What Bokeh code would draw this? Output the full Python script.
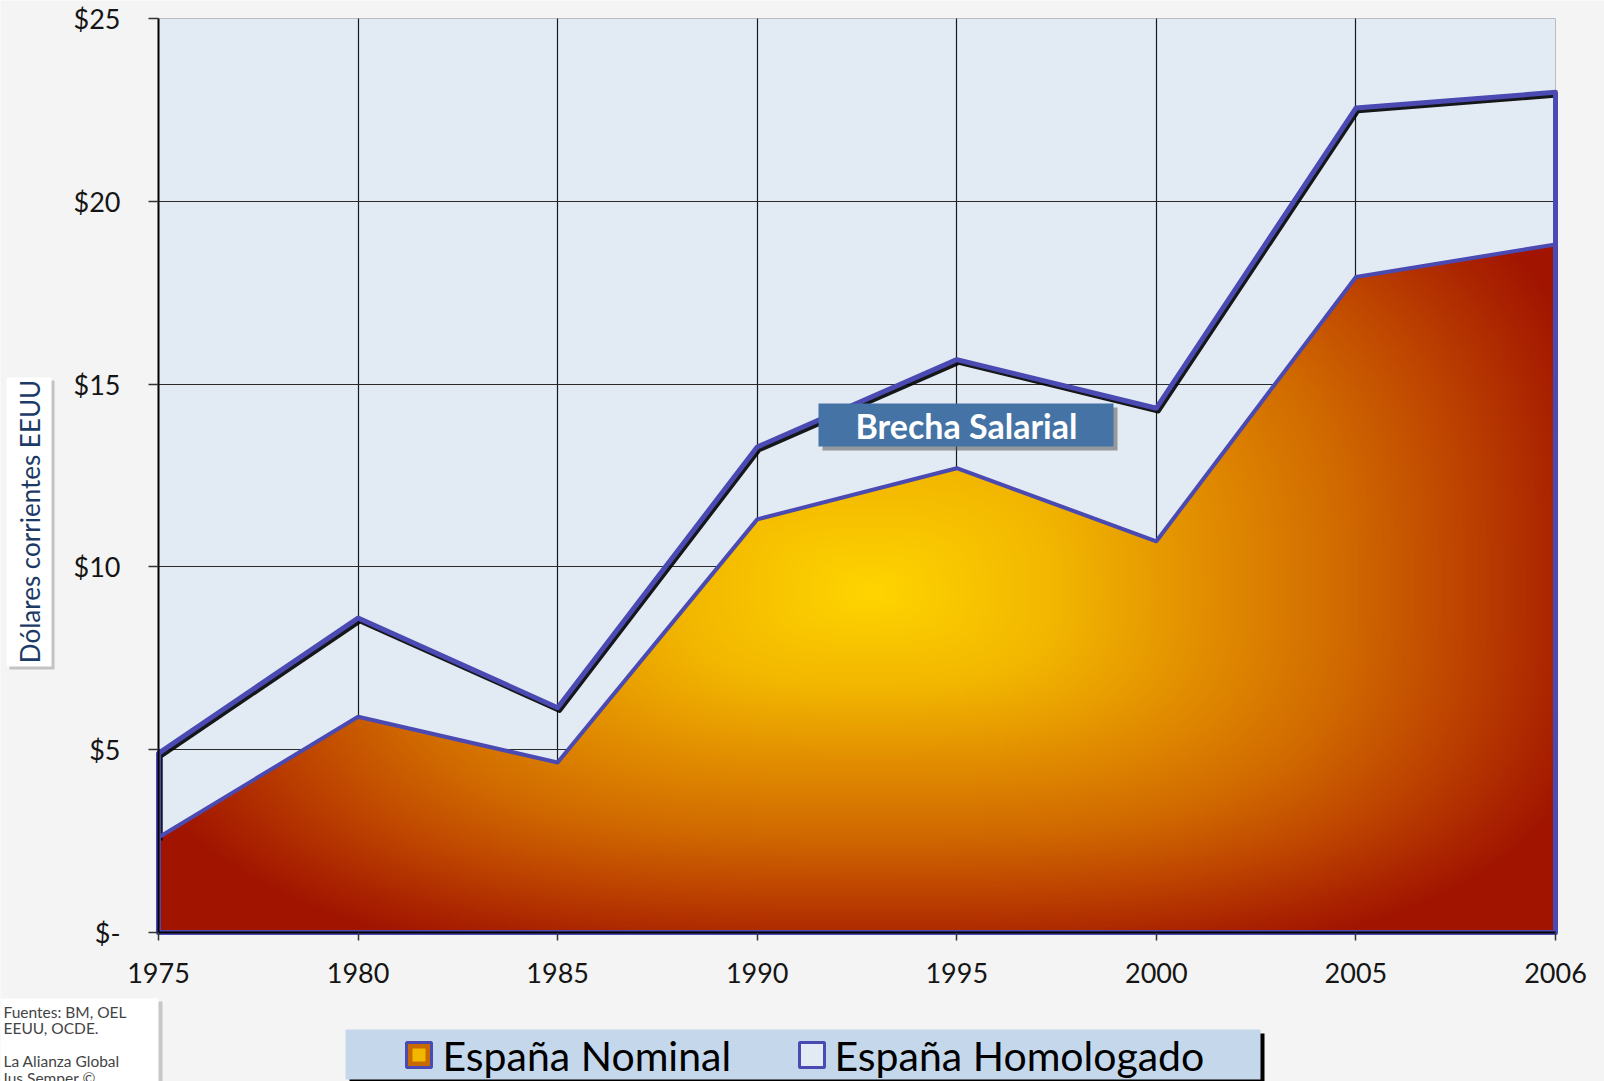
import numpy as np
from bokeh.plotting import figure
from bokeh.models import FixedTicker, BoxAnnotation, Label, Range1d
from bokeh.embed import file_html
from bokeh.resources import INLINE

# ---------------- data ----------------
years = ["1975", "1980", "1985", "1990", "1995", "2000", "2005", "2006"]
nominal = [2.6, 5.9, 4.65, 11.3, 12.7, 10.7, 17.93, 18.82]
homologado = [4.9, 8.6, 6.15, 13.28, 15.67, 14.34, 22.55, 22.98]
y_ticks = [0, 5, 10, 15, 20, 25]
y_tick_labels = ["$-", "$5", "$10", "$15", "$20", "$25"]
series_names = ["España Nominal", "España Homologado"]
y_title = "Dólares corrientes EEUU"
gap_label = "Brecha Salarial"
source_lines = ["Fuentes: BM, OEL", "EEUU, OCDE.", "", "La Alianza Global", "Ius Semper ©"]

idx = list(range(len(years)))

# ---------------- layout (reference pixel positions) ----------------
W, H = 1604, 1081
FL, FR, FT, FB = 158, 1555, 18, 932      # data area in page pixels
FONT = "Lato"
BLUE = "#4A4AB2"
x0, x1 = idx[0], idx[-1]
y0, y1 = y_ticks[0], y_ticks[-1]
ppx = (FR - FL) / (x1 - x0)
ppy = (FB - FT) / (y1 - y0)

# frame = whole canvas; ranges chosen so the data area lands at FL..FR / FT..FB
p = figure(width=W, height=H,
           x_range=Range1d(x0 - FL / ppx, x1 + (W - FR) / ppx),
           y_range=Range1d(y0 - (H - FB) / ppy, y1 + FT / ppy),
           output_backend="svg", toolbar_location=None,
           min_border=0, min_border_left=0, min_border_right=0,
           min_border_top=0, min_border_bottom=0)
p.background_fill_color = "#F4F4F4"
p.border_fill_color = "#F4F4F4"
p.outline_line_color = None

def sx(X):
    return X

def sy(Y):
    return H - Y

# data-area background
p.add_layout(BoxAnnotation(left=x0, right=x1, bottom=y0, top=y1, level="image",
                           fill_color="#E2EAF4", fill_alpha=1,
                           line_color="#BDBDBD", line_width=1, line_alpha=1))

# axes, fixed at the data origin
p.xaxis.fixed_location = y0
p.yaxis.fixed_location = x0
p.xaxis.bounds = (x0, x1)
p.yaxis.bounds = (y0, y1)
p.xaxis.ticker = FixedTicker(ticks=idx)
p.xaxis.major_label_overrides = {i: y for i, y in zip(idx, years)}
p.yaxis.ticker = FixedTicker(ticks=y_ticks)
p.yaxis.major_label_overrides = {t: l for t, l in zip(y_ticks, y_tick_labels)}
for ax in (p.xaxis, p.yaxis):
    ax.axis_line_color = "#000000"
    ax.axis_line_width = 2
    ax.major_tick_line_color = "#333333"
    ax.major_tick_line_width = 1.5
    ax.major_tick_in = 0
    ax.minor_tick_line_color = None
    ax.major_label_text_font = FONT
    ax.major_label_text_font_size = "27px"
    ax.major_label_text_color = "#151515"
p.yaxis.major_tick_out = 10
p.yaxis.major_label_standoff = 28
p.xaxis.major_tick_out = 8
p.xaxis.major_label_standoff = 22

# grid lines limited to the data area
grid_x = idx[1:-1]
grid_y = y_ticks[1:-1]
has_cross = "cross_bounds" in p.xgrid[0].properties()
if has_cross:
    p.xgrid.ticker = FixedTicker(ticks=grid_x)
    p.ygrid.ticker = FixedTicker(ticks=grid_y)
    p.xgrid.cross_bounds = (y0, y1)
    p.ygrid.cross_bounds = (x0, x1)
    p.xgrid.grid_line_color = "#1A1A1A"
    p.ygrid.grid_line_color = "#2A2A2A"
    p.xgrid.grid_line_width = 1.2
    p.ygrid.grid_line_width = 1.2
else:
    p.xgrid.grid_line_color = None
    p.ygrid.grid_line_color = None
    p.segment(x0=grid_x, x1=grid_x, y0=[y0] * len(grid_x), y1=[y1] * len(grid_x),
              line_color="#1A1A1A", line_width=1.2, level="underlay")
    p.segment(x0=[x0] * len(grid_y), x1=[x1] * len(grid_y), y0=grid_y, y1=grid_y,
              line_color="#2A2A2A", line_width=1.2, level="underlay")

# ---------------- gradient fill for nominal area ----------------
nx, ny = 700, 460
gx = x0 + (np.arange(nx) + 0.5) * (x1 - x0) / nx
gy = y0 + (np.arange(ny) + 0.5) * (y1 - y0) / ny
GX, GY = np.meshgrid(gx, gy)
cx, cy = (870 - FL) / ppx, (FB - 593) / ppy
rxl, rxr = 760 / ppx, 740 / ppx
ryd, ryu = 375 / ppy, 500 / ppy
ux = np.where(GX < cx, (cx - GX) / rxl, (GX - cx) / rxr)
uy = np.where(GY < cy, (cy - GY) / ryd, (GY - cy) / ryu)
t = np.clip((ux ** 3 + uy ** 3) ** (1 / 3), 0, 1)
stops = [0.0, 0.25, 0.45, 0.65, 0.8, 0.92, 1.0]
rs = [255, 242, 226, 208, 190, 172, 160]
gs = [213, 182, 142, 104, 68, 38, 20]
top = np.interp(gx, idx, nominal)
mask = GY <= top[None, :]
img = np.zeros((ny, nx), dtype=np.uint32)
view = img.view(dtype=np.uint8).reshape((ny, nx, 4))
view[..., 0] = np.interp(t, stops, rs).astype(np.uint8)
view[..., 1] = np.interp(t, stops, gs).astype(np.uint8)
view[..., 2] = 0
view[..., 3] = np.where(mask, 255, 0).astype(np.uint8)
p.image_rgba(image=[img], x=x0, y=y0, dw=x1 - x0, dh=y1 - y0)

# ---------------- outlines ----------------
dx, dy = 2 / ppx, -3 / ppy
shx = [idx[0] + dx] + [i + dx for i in idx]
shy = [nominal[0] + dy] + [v + dy for v in homologado]
p.line(shx, shy, line_color="#000000", line_width=4.5, line_alpha=0.9, line_join="round")

hx = [x0] + idx + [x1]
hy = [y0] + homologado + [y0]
p.patch(hx, hy, fill_alpha=0, line_color=BLUE, line_width=5, line_join="round")

nxs = [x0] + idx + [x1]
nys = [y0] + nominal + [y0]
p.patch(nxs, nys, fill_alpha=0, line_color=BLUE, line_width=4, line_join="round")

# ---------------- annotations ----------------
def box(l, t_, r, b, color, alpha=1.0, line_color=None, line_width=0):
    p.add_layout(BoxAnnotation(left=sx(l), right=sx(r), top=sy(t_), bottom=sy(b),
                               left_units="screen", right_units="screen",
                               top_units="screen", bottom_units="screen",
                               fill_color=color, fill_alpha=alpha,
                               line_color=line_color, line_width=line_width,
                               line_alpha=1.0 if line_color else 0))

def label(X, Y, text, size, color, align="left", baseline="middle", style="normal", angle=0):
    p.add_layout(Label(x=sx(X), y=sy(Y), x_units="screen", y_units="screen", text=text,
                       text_font=FONT, text_font_size=f"{size}px", text_color=color,
                       text_align=align, text_baseline=baseline, text_font_style=style,
                       angle=angle))

# y title box
box(9, 380, 54, 669, "#888888", 0.45)
box(6, 377, 51, 666, "#FFFFFF")
label(29, 521, y_title, 26, "#1B3A66", align="center", angle=np.pi / 2)

# brecha salarial box
box(822, 407, 1117, 450, "#555555", 0.55)
box(818, 403, 1113, 446, "#4573A5")
label(966, 425, gap_label, 34, "#FFFFFF", align="center", style="bold")

# legend
box(349, 1033, 1264, 1083, "#000000")
box(345, 1029, 1260, 1079, "#C5D7EA")
box(406, 1042, 431, 1067, "#C86A00", line_color=BLUE, line_width=3)
box(412, 1048, 425, 1061, "#F2B800")
box(799, 1042, 824, 1067, "#E2EAF4", line_color=BLUE, line_width=3)
label(442, 1055, series_names[0], 41, "#000000")
label(834, 1055, series_names[1], 41, "#000000")

# source box
box(3, 1001, 162, 1090, "#999999", 0.5)
box(0, 998, 158, 1087, "#FFFFFF")
line_step = 16.5
for k, line in enumerate(source_lines):
    if line:
        label(3, 1011 + k * line_step, line, 15.5, "#444444")

open("out.html", "w").write(file_html(p, INLINE))
